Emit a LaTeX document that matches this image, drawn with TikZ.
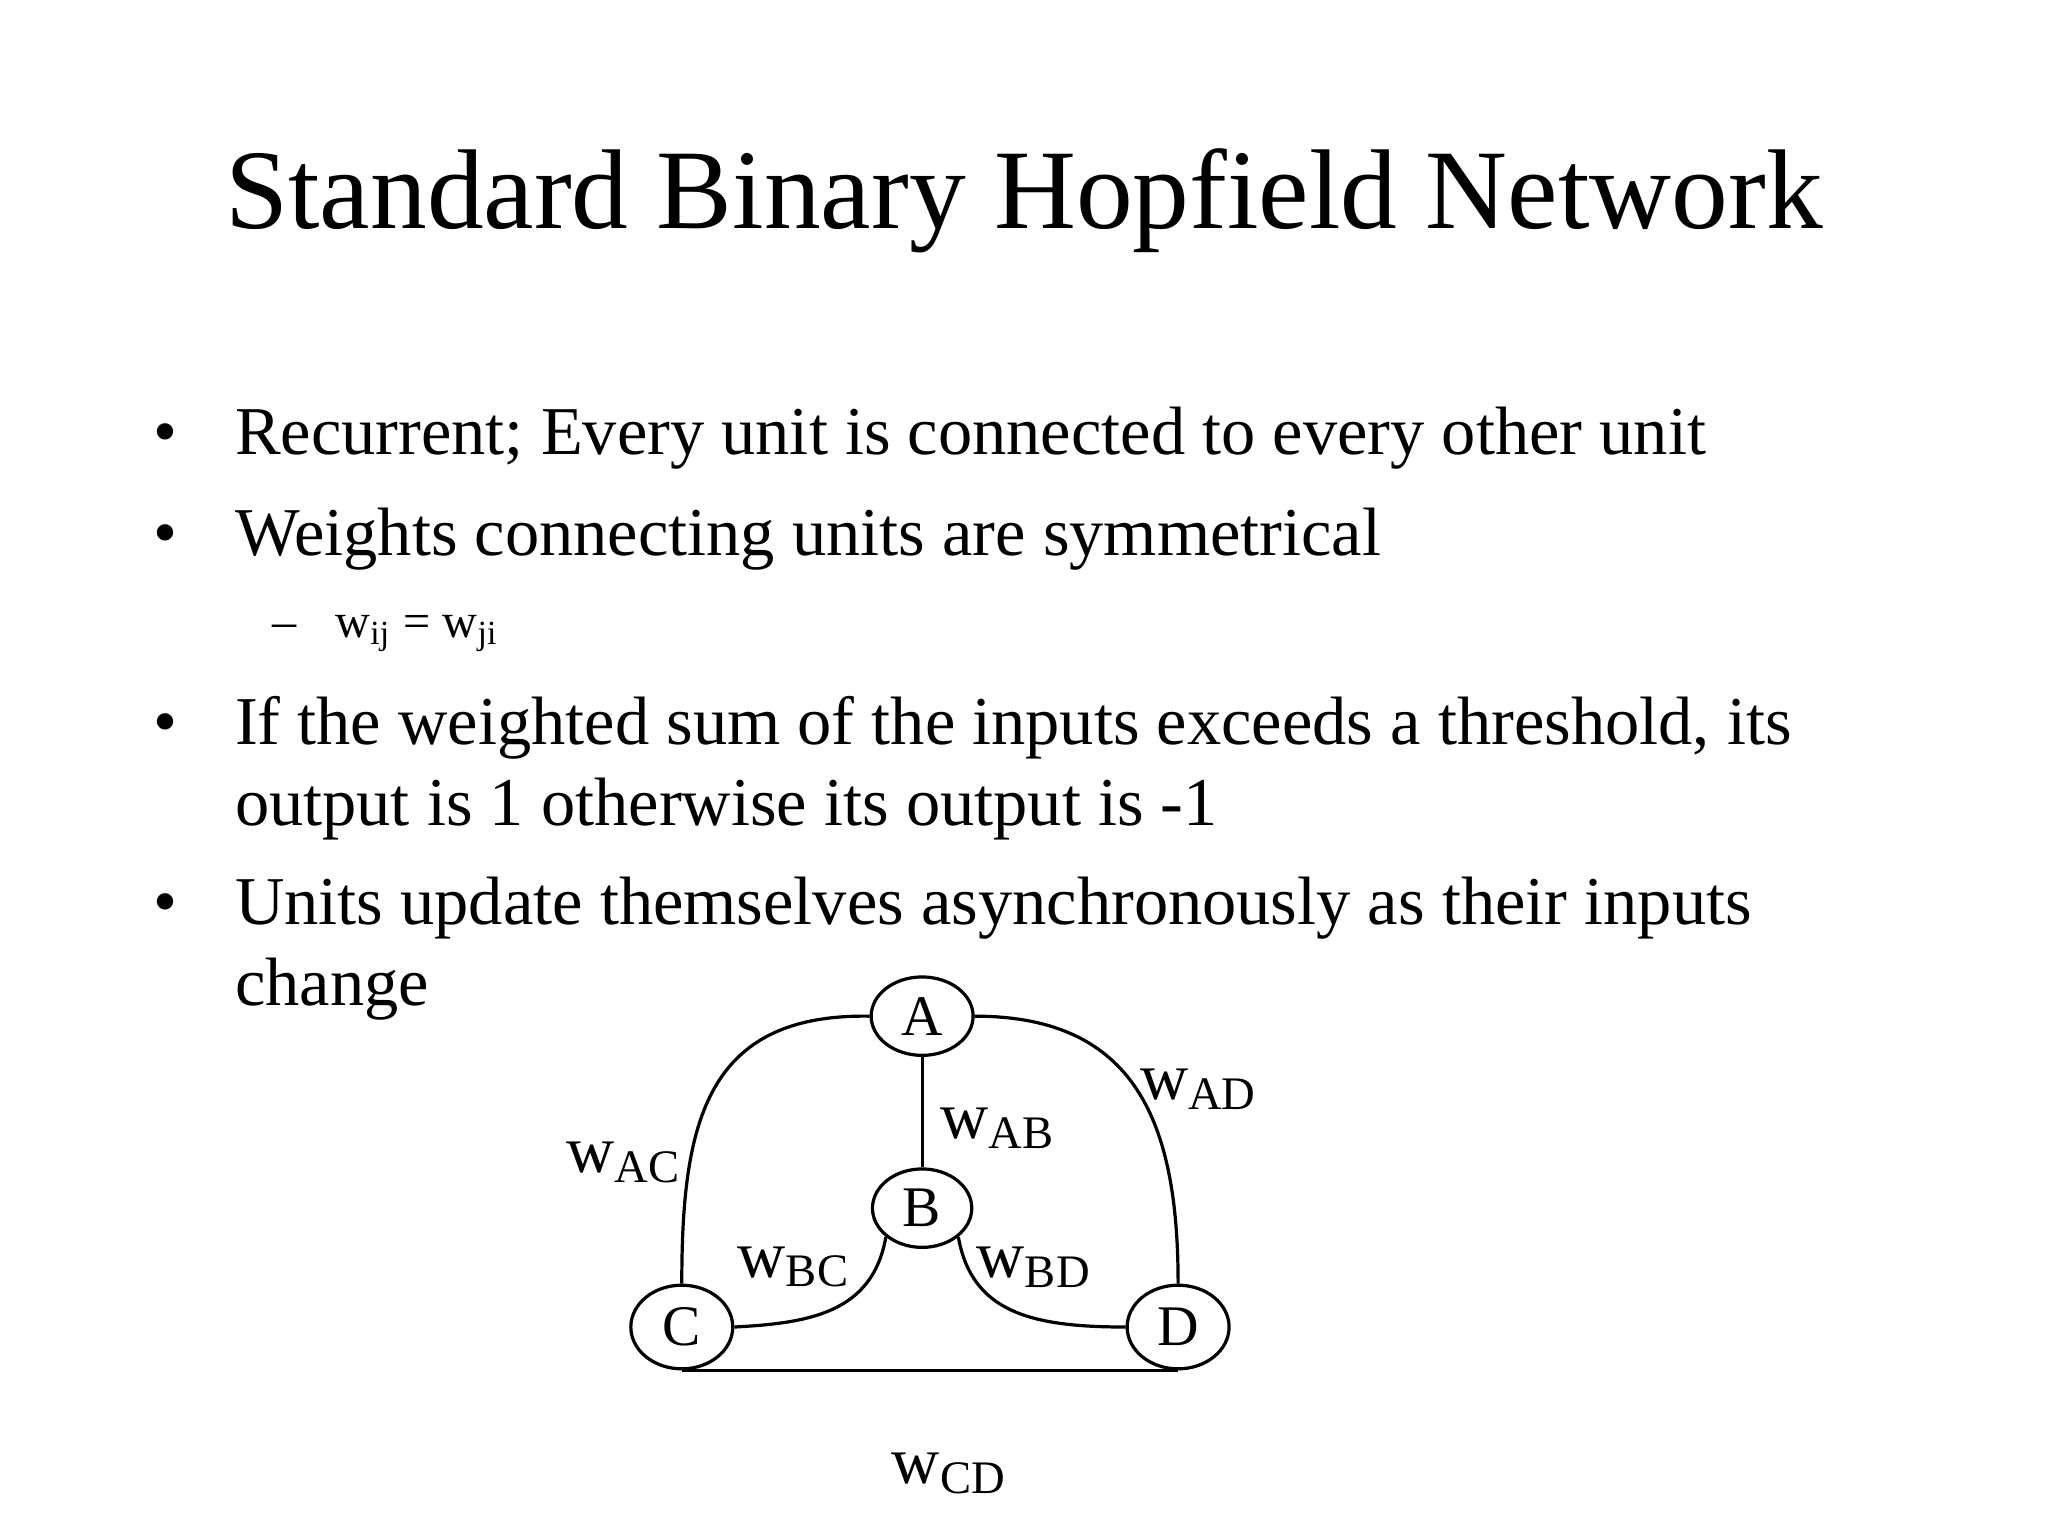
\documentclass[tikz,border=0pt]{standalone}
\usepackage{fontspec}
\setmainfont{Liberation Serif}
\usetikzlibrary{shapes.geometric}
\begin{document}
\begin{tikzpicture}[x=0.01cm,y=-0.01cm,
  blt/.style={anchor=base west,font=\fontsize{14.9}{19}\selectfont},
  wl/.style={font=\fontsize{14.5}{15}\selectfont},
  un/.style={draw,ellipse,inner sep=0pt,font=\fontsize{12.5}{13}\selectfont},
  every path/.style={line width=0.7pt}]
\useasboundingbox (0,0) rectangle (1568,1176);
\node[anchor=base,font=\fontsize{24.7}{25}\selectfont] (title) at (784,175) {Standard Binary Hopfield Network};
\foreach \y/\n in {348/b1,425/b2,570/b3,708/b4}
  \node[blt,anchor=base] (\n d) at (127,\y) {•};
\node[blt] (t1) at (167,348) {Recurrent; Every unit is connected to every other unit};
\node[blt] (t2) at (167,425) {Weights connecting units are symmetrical};
\node[anchor=base west,font=\fontsize{10.5}{11}\selectfont] (t3) at (196,488) {–\hspace{0.8em}w\textsubscript{ij} = w\textsubscript{ji}};
\node[blt] (t4) at (167,570) {If the weighted sum of the inputs exceeds a threshold, its};
\node[blt] (t5) at (167,632) {output is 1 otherwise its output is -1};
\node[blt] (t6) at (167,708) {Units update themselves asynchronously as their inputs};
\node[blt] (t7) at (167,770) {change};
\node[un,minimum width=0.78cm,minimum height=0.6cm] (A) at (706,778) {A};
\node[un,minimum width=0.76cm,minimum height=0.6cm] (B) at (706,925) {B};
\node[un,minimum width=0.78cm,minimum height=0.64cm] (C) at (522,1016) {C};
\node[un,minimum width=0.78cm,minimum height=0.64cm] (D) at (902,1016) {D};
\draw (A) -- (B);
\draw (A.west) .. controls (540,776) and (522,860) .. (C.north);
\draw (A.east) .. controls (870,778) and (902,860) .. (D.north);
\draw (B.south west) .. controls (668,1005) and (620,1013) .. (C.east);
\draw (B.south east) .. controls (744,1005) and (790,1016) .. (D.west);
\draw (C.south) -- (D.south);
\node[wl] (lac) at (478,890) {w\textsubscript{AC}};
\node[wl] (lab) at (764,864) {w\textsubscript{AB}};
\node[wl] (lad) at (918,834) {w\textsubscript{AD}};
\node[wl] (lbc) at (608,970) {w\textsubscript{BC}};
\node[wl] (lbd) at (792,970) {w\textsubscript{BD}};
\node[wl] (lcd) at (727,1128) {w\textsubscript{CD}};
\end{tikzpicture}
\end{document}
